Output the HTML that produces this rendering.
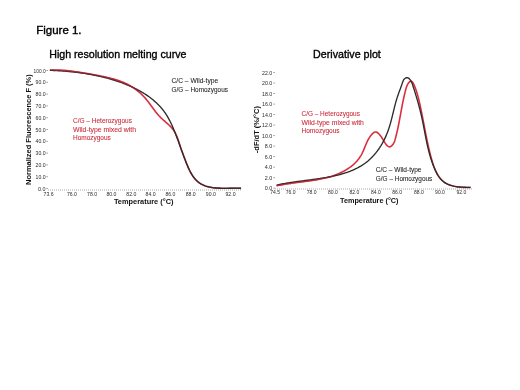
<!DOCTYPE html>
<html><head><meta charset="utf-8"><style>
html,body{margin:0;padding:0;background:#fff;width:520px;height:390px;overflow:hidden}
svg{display:block;filter:blur(0.3px)}
text{font-family:"Liberation Sans",sans-serif}
.tk{font-size:6px;fill:#2a2a2a}
.tm{stroke:#666;stroke-width:0.6}
.ax{stroke:#c0c0c0;stroke-width:1.4;stroke-dasharray:0.9 1.1}
</style></head><body>
<svg width="520" height="390" viewBox="0 0 520 390">
<text x="36.25" y="34.1" font-size="11.4" fill="#000" stroke="#000" stroke-width="0.4" textLength="45.3" lengthAdjust="spacingAndGlyphs">Figure 1.</text>
<text x="49.2" y="57.7" font-size="10.8" fill="#000" stroke="#000" stroke-width="0.35" textLength="137.3" lengthAdjust="spacingAndGlyphs">High resolution melting curve</text>
<text x="313.1" y="57.7" font-size="10.6" fill="#000" stroke="#000" stroke-width="0.35" textLength="67.7" lengthAdjust="spacingAndGlyphs">Derivative plot</text>

<!-- left chart -->
<line x1="48" x2="242" y1="190" y2="190" class="ax"/>
<text x="45.6" y="72.6" class="tk" text-anchor="end" textLength="12.0" lengthAdjust="spacingAndGlyphs">100.0</text><line x1="46.3" x2="48" y1="70.5" y2="70.5" class="tm"/><text x="45.6" y="84.4" class="tk" text-anchor="end" textLength="10.0" lengthAdjust="spacingAndGlyphs">90.0</text><line x1="46.3" x2="48" y1="82.3" y2="82.3" class="tm"/><text x="45.6" y="96.2" class="tk" text-anchor="end" textLength="10.0" lengthAdjust="spacingAndGlyphs">80.0</text><line x1="46.3" x2="48" y1="94.1" y2="94.1" class="tm"/><text x="45.6" y="108.0" class="tk" text-anchor="end" textLength="10.0" lengthAdjust="spacingAndGlyphs">70.0</text><line x1="46.3" x2="48" y1="105.9" y2="105.9" class="tm"/><text x="45.6" y="119.8" class="tk" text-anchor="end" textLength="10.0" lengthAdjust="spacingAndGlyphs">60.0</text><line x1="46.3" x2="48" y1="117.7" y2="117.7" class="tm"/><text x="45.6" y="131.6" class="tk" text-anchor="end" textLength="10.0" lengthAdjust="spacingAndGlyphs">50.0</text><line x1="46.3" x2="48" y1="129.5" y2="129.5" class="tm"/><text x="45.6" y="143.4" class="tk" text-anchor="end" textLength="10.0" lengthAdjust="spacingAndGlyphs">40.0</text><line x1="46.3" x2="48" y1="141.3" y2="141.3" class="tm"/><text x="45.6" y="155.2" class="tk" text-anchor="end" textLength="10.0" lengthAdjust="spacingAndGlyphs">30.0</text><line x1="46.3" x2="48" y1="153.1" y2="153.1" class="tm"/><text x="45.6" y="167.0" class="tk" text-anchor="end" textLength="10.0" lengthAdjust="spacingAndGlyphs">20.0</text><line x1="46.3" x2="48" y1="164.9" y2="164.9" class="tm"/><text x="45.6" y="178.8" class="tk" text-anchor="end" textLength="10.0" lengthAdjust="spacingAndGlyphs">10.0</text><line x1="46.3" x2="48" y1="176.7" y2="176.7" class="tm"/><text x="45.6" y="190.6" class="tk" text-anchor="end" textLength="7.5" lengthAdjust="spacingAndGlyphs">0.0</text><line x1="46.3" x2="48" y1="188.5" y2="188.5" class="tm"/>
<text x="48.6" y="195.9" class="tk" text-anchor="middle" textLength="10.0" lengthAdjust="spacingAndGlyphs">73.6</text><text x="71.9" y="195.9" class="tk" text-anchor="middle" textLength="10.0" lengthAdjust="spacingAndGlyphs">76.0</text><text x="92.1" y="195.9" class="tk" text-anchor="middle" textLength="10.0" lengthAdjust="spacingAndGlyphs">78.0</text><text x="111.4" y="195.9" class="tk" text-anchor="middle" textLength="10.0" lengthAdjust="spacingAndGlyphs">80.0</text><text x="131.3" y="195.9" class="tk" text-anchor="middle" textLength="10.0" lengthAdjust="spacingAndGlyphs">82.0</text><text x="150.6" y="195.9" class="tk" text-anchor="middle" textLength="10.0" lengthAdjust="spacingAndGlyphs">84.0</text><text x="170.4" y="195.9" class="tk" text-anchor="middle" textLength="10.0" lengthAdjust="spacingAndGlyphs">86.0</text><text x="190.7" y="195.9" class="tk" text-anchor="middle" textLength="10.0" lengthAdjust="spacingAndGlyphs">88.0</text><text x="210.8" y="195.9" class="tk" text-anchor="middle" textLength="10.0" lengthAdjust="spacingAndGlyphs">90.0</text><text x="230.5" y="195.9" class="tk" text-anchor="middle" textLength="10.0" lengthAdjust="spacingAndGlyphs">92.0</text>
<text transform="translate(30.6,184.9) rotate(-90)" font-size="7.8" font-weight="bold" fill="#111" textLength="110.6" lengthAdjust="spacingAndGlyphs">Normalized Fluorescence F (%)</text>
<text x="113.9" y="203.9" font-size="7.3" font-weight="bold" fill="#111" textLength="59.6" lengthAdjust="spacingAndGlyphs">Temperature (°C)</text>
<path d="M49.84,70.03L50.69,70.00L51.54,69.98L52.39,69.96L53.23,69.95L54.07,69.95L54.91,69.95L55.75,69.96L56.59,69.97L57.42,70.00L58.26,70.02L59.09,70.05L59.92,70.09L60.75,70.13L61.57,70.18L62.40,70.23L63.22,70.29L64.04,70.36L64.86,70.42L65.68,70.49L66.50,70.57L67.32,70.65L68.14,70.74L68.95,70.83L69.77,70.92L70.58,71.01L71.39,71.11L72.20,71.22L73.02,71.33L73.83,71.44L74.64,71.55L75.45,71.67L76.26,71.79L77.07,71.91L77.88,72.03L78.69,72.16L79.50,72.29L80.30,72.42L81.11,72.56L81.92,72.69L82.73,72.83L83.54,72.97L84.35,73.11L85.16,73.25L85.97,73.40L86.78,73.54L87.60,73.69L88.41,73.84L89.22,73.98L90.04,74.13L90.85,74.28L91.67,74.43L92.48,74.58L93.30,74.73L94.12,74.88L94.94,75.04L95.76,75.19L96.58,75.34L97.40,75.49L98.22,75.65L99.05,75.80L99.87,75.96L100.69,76.12L101.51,76.28L102.34,76.44L103.16,76.61L103.98,76.77L104.80,76.95L105.62,77.12L106.44,77.30L107.25,77.48L108.07,77.67L108.88,77.86L109.69,78.05L110.50,78.25L111.31,78.46L112.12,78.67L112.92,78.88L113.72,79.11L114.52,79.33L115.32,79.57L116.11,79.81L116.90,80.05L117.69,80.31L118.47,80.57L119.25,80.83L120.03,81.11L120.80,81.39L121.57,81.69L122.34,81.99L123.10,82.29L123.85,82.61L124.61,82.94L125.35,83.27L126.09,83.62L126.83,83.98L127.56,84.34L128.29,84.72L129.01,85.10L129.73,85.50L130.44,85.91L131.14,86.33L131.84,86.76L132.53,87.19L133.22,87.64L133.90,88.10L134.57,88.57L135.24,89.05L135.90,89.54L136.56,90.04L137.20,90.54L137.85,91.06L138.48,91.58L139.11,92.12L139.73,92.66L140.34,93.21L140.95,93.77L141.55,94.34L142.14,94.91L142.72,95.49L143.30,96.08L143.87,96.68L144.43,97.29L144.98,97.90L145.53,98.52L146.06,99.14L146.59,99.78L147.12,100.41L147.63,101.06L148.14,101.71L148.64,102.36L149.14,103.02L149.64,103.68L150.13,104.34L150.62,105.01L151.10,105.67L151.59,106.34L152.07,107.01L152.56,107.68L153.05,108.34L153.54,109.01L154.03,109.67L154.52,110.33L155.02,110.99L155.52,111.64L156.03,112.29L156.54,112.93L157.07,113.57L157.59,114.20L158.13,114.82L158.68,115.44L159.23,116.05L159.80,116.65L160.38,117.24L160.96,117.82L161.56,118.39L162.17,118.96L162.78,119.52L163.40,120.07L164.02,120.62L164.65,121.17L165.27,121.72L165.90,122.26L166.52,122.81L167.14,123.36L167.76,123.92L168.37,124.47L168.97,125.04L169.56,125.61L170.14,126.18L170.71,126.77L171.26,127.37L171.80,127.98L172.32,128.60L172.82,129.23L173.31,129.88L173.77,130.55L174.21,131.23L174.63,131.93L175.04,132.63L175.42,133.36L175.79,134.09L176.15,134.83L176.49,135.59L176.82,136.35L177.13,137.12L177.44,137.90L177.73,138.68L178.02,139.47L178.30,140.26L178.57,141.06L178.83,141.85L179.10,142.65L179.35,143.45L179.61,144.25L179.87,145.04L180.12,145.84L180.38,146.62L180.64,147.41L180.90,148.19L181.17,148.96L181.43,149.73L181.70,150.50L181.98,151.26L182.26,152.02L182.53,152.78L182.82,153.55L183.10,154.31L183.39,155.07L183.67,155.84L183.96,156.60L184.26,157.38L184.55,158.15L184.84,158.94L185.14,159.72L185.44,160.51L185.74,161.31L186.05,162.10L186.36,162.90L186.67,163.70L186.99,164.50L187.31,165.29L187.64,166.09L187.98,166.88L188.32,167.67L188.67,168.45L189.03,169.23L189.39,170.00L189.76,170.76L190.15,171.52L190.54,172.27L190.94,173.00L191.35,173.73L191.77,174.44L192.21,175.15L192.65,175.84L193.11,176.51L193.58,177.17L194.06,177.82L194.56,178.44L195.07,179.05L195.60,179.65L196.14,180.22L196.69,180.77L197.26,181.30L197.85,181.81L198.46,182.30L199.08,182.76L199.72,183.20L200.38,183.62L201.05,184.01L201.74,184.38L202.45,184.73L203.16,185.05L203.90,185.36L204.64,185.65L205.40,185.92L206.17,186.17L206.95,186.40L207.75,186.61L208.55,186.81L209.36,186.99L210.18,187.16L211.01,187.31L211.85,187.45L212.69,187.58L213.54,187.69L214.40,187.79L215.26,187.88L216.13,187.95L217.00,188.02L217.87,188.08L218.74,188.13L219.62,188.17L220.50,188.20L221.38,188.23L222.26,188.25L223.14,188.26L224.01,188.27L224.89,188.27L225.76,188.27L226.63,188.27L227.50,188.26L228.36,188.25L229.22,188.24L230.07,188.23L230.92,188.22L231.75,188.22L232.59,188.21L233.41,188.20L234.22,188.20L235.03,188.20L235.82,188.20L236.61,188.21L237.38,188.22L238.14,188.24L238.89,188.26L239.62,188.29L240.35,188.33L241.05,188.38" fill="none" stroke="#da2e3e" stroke-width="1.6"/>
<path d="M49.85,70.31L50.69,70.34L51.52,70.38L52.36,70.42L53.20,70.46L54.04,70.50L54.87,70.55L55.71,70.59L56.55,70.64L57.38,70.69L58.21,70.74L59.05,70.79L59.88,70.84L60.72,70.90L61.55,70.95L62.38,71.01L63.21,71.07L64.04,71.14L64.88,71.20L65.71,71.27L66.54,71.34L67.36,71.41L68.19,71.48L69.02,71.56L69.85,71.64L70.68,71.72L71.50,71.80L72.33,71.88L73.16,71.97L73.98,72.06L74.80,72.15L75.63,72.24L76.45,72.34L77.27,72.44L78.10,72.54L78.92,72.65L79.74,72.75L80.56,72.86L81.38,72.97L82.20,73.09L83.02,73.20L83.84,73.32L84.65,73.45L85.47,73.57L86.29,73.70L87.10,73.83L87.92,73.97L88.73,74.10L89.55,74.25L90.36,74.39L91.17,74.53L91.98,74.68L92.80,74.84L93.61,74.99L94.42,75.15L95.23,75.31L96.03,75.48L96.84,75.65L97.65,75.82L98.46,76.00L99.26,76.17L100.07,76.36L100.87,76.54L101.68,76.73L102.48,76.92L103.28,77.12L104.09,77.32L104.89,77.52L105.69,77.73L106.49,77.94L107.29,78.15L108.09,78.37L108.88,78.59L109.68,78.82L110.48,79.05L111.27,79.28L112.07,79.52L112.86,79.76L113.65,80.01L114.45,80.26L115.24,80.51L116.03,80.77L116.82,81.03L117.61,81.30L118.40,81.57L119.19,81.84L119.97,82.12L120.76,82.40L121.55,82.69L122.33,82.98L123.12,83.28L123.90,83.58L124.68,83.88L125.46,84.19L126.24,84.50L127.02,84.82L127.79,85.15L128.57,85.47L129.34,85.81L130.11,86.14L130.88,86.49L131.65,86.83L132.41,87.19L133.17,87.54L133.93,87.91L134.68,88.27L135.44,88.65L136.19,89.03L136.93,89.41L137.68,89.80L138.42,90.19L139.15,90.59L139.89,91.00L140.61,91.41L141.34,91.82L142.06,92.25L142.78,92.67L143.49,93.11L144.20,93.55L144.90,93.99L145.60,94.44L146.29,94.90L146.98,95.36L147.66,95.83L148.34,96.31L149.01,96.79L149.68,97.27L150.34,97.77L151.00,98.27L151.65,98.77L152.29,99.29L152.93,99.81L153.56,100.33L154.19,100.86L154.81,101.40L155.42,101.95L156.02,102.50L156.62,103.06L157.21,103.62L157.80,104.20L158.38,104.78L158.95,105.36L159.51,105.96L160.06,106.56L160.61,107.16L161.15,107.78L161.68,108.40L162.20,109.03L162.71,109.67L163.22,110.31L163.72,110.96L164.21,111.62L164.68,112.29L165.16,112.96L165.62,113.64L166.07,114.33L166.51,115.03L166.95,115.73L167.38,116.44L167.80,117.15L168.21,117.87L168.62,118.59L169.02,119.33L169.41,120.06L169.79,120.80L170.17,121.55L170.55,122.30L170.91,123.05L171.27,123.81L171.63,124.57L171.98,125.33L172.32,126.10L172.66,126.86L172.99,127.63L173.32,128.41L173.65,129.18L173.97,129.96L174.29,130.74L174.60,131.52L174.91,132.30L175.22,133.08L175.52,133.86L175.82,134.64L176.12,135.42L176.42,136.19L176.71,136.97L177.00,137.75L177.29,138.53L177.58,139.31L177.86,140.09L178.15,140.86L178.43,141.64L178.72,142.42L179.00,143.20L179.28,143.97L179.56,144.75L179.84,145.53L180.12,146.30L180.40,147.08L180.68,147.86L180.96,148.64L181.24,149.41L181.52,150.19L181.80,150.97L182.08,151.75L182.37,152.53L182.65,153.31L182.94,154.09L183.22,154.87L183.51,155.65L183.81,156.43L184.10,157.21L184.40,157.99L184.69,158.78L184.99,159.56L185.30,160.35L185.61,161.13L185.92,161.92L186.23,162.71L186.55,163.49L186.87,164.28L187.19,165.07L187.52,165.85L187.86,166.64L188.20,167.41L188.55,168.19L188.91,168.96L189.27,169.72L189.64,170.48L190.03,171.23L190.42,171.97L190.82,172.70L191.23,173.42L191.66,174.14L192.09,174.83L192.54,175.52L193.00,176.19L193.47,176.85L193.96,177.49L194.46,178.12L194.98,178.73L195.52,179.32L196.06,179.90L196.63,180.45L197.21,180.99L197.80,181.51L198.41,182.01L199.04,182.49L199.68,182.95L200.33,183.38L201.00,183.80L201.68,184.20L202.38,184.58L203.09,184.93L203.81,185.26L204.55,185.58L205.30,185.87L206.06,186.14L206.84,186.39L207.62,186.62L208.42,186.83L209.23,187.03L210.04,187.21L210.87,187.37L211.70,187.52L212.54,187.65L213.38,187.77L214.23,187.87L215.09,187.96L215.95,188.04L216.82,188.11L217.69,188.17L218.57,188.22L219.44,188.26L220.32,188.29L221.20,188.31L222.08,188.33L222.96,188.34L223.84,188.34L224.72,188.34L225.59,188.34L226.47,188.33L227.34,188.31L228.21,188.30L229.07,188.28L229.93,188.27L230.78,188.25L231.63,188.23L232.47,188.22L233.30,188.20L234.13,188.19L234.94,188.19L235.75,188.18L236.55,188.18L237.34,188.19L238.11,188.20L238.88,188.22L239.63,188.25L240.37,188.28L241.10,188.33" fill="none" stroke="#2c2c2c" stroke-width="1.35"/>
<path d="M49.98,69.74L50.88,69.80L51.78,69.85L52.68,69.91L53.59,69.96L54.49,70.02L55.40,70.08L56.30,70.14L57.21,70.20L58.12,70.26L59.03,70.33L59.94,70.39L60.85,70.46L61.76,70.53L62.67,70.60L63.59,70.67L64.50,70.74L65.41,70.82L66.33,70.89L67.24,70.97L68.16,71.05L69.07,71.14L69.99,71.22L70.90,71.31L71.82,71.40L72.73,71.49L73.65,71.59L74.57,71.69L75.48,71.79L76.40,71.89L77.31,72.00L78.23,72.10L79.14,72.22L80.06,72.33L80.97,72.45L81.89,72.57L82.80,72.69L83.71,72.82L84.63,72.95L85.54,73.08L86.45,73.22L87.36,73.36L88.27,73.51L89.18,73.65L90.09,73.81L91.00,73.96L91.91,74.12L92.82,74.28L93.72,74.45L94.63,74.62L95.53,74.80L96.43,74.98L97.33,75.16L98.23,75.35L99.13,75.54L100.03,75.74L100.93,75.94L101.82,76.15L102.72,76.36L103.61,76.58L104.50,76.80L105.39,77.02L106.28,77.25L107.16,77.49L108.05,77.73L108.93,77.98L109.81,78.23L110.69,78.48L111.57,78.75L112.44,79.01L113.32,79.29L114.19,79.56L115.06,79.85L115.93,80.14L116.79,80.43L117.66,80.73L118.52,81.04L119.38,81.35L120.23,81.67L121.09,82.00L121.94,82.33L122.79,82.67L123.64,83.01L124.48,83.36L125.32,83.72L126.16,84.08L127.00,84.45L127.83,84.83L128.66,85.22L129.49,85.61L130.32,86.00L131.14,86.41L131.96,86.82L132.78,87.24L133.59,87.66L134.40,88.10L135.21,88.54L136.01,88.98L136.82,89.44L137.61,89.90" fill="none" stroke="#da2e3e" stroke-width="1.5" opacity="0.4"/>
<g font-size="6.4" fill="#1e1e1e" stroke="#1e1e1e" stroke-width="0.07">
<text x="171.5" y="83.1" textLength="46.7" lengthAdjust="spacingAndGlyphs">C/C – Wild-type</text>
<text x="171.5" y="91.5" textLength="56.5" lengthAdjust="spacingAndGlyphs">G/G – Homozygous</text>
</g>
<g font-size="6.4" fill="#c92a38" stroke="#c92a38" stroke-width="0.07">
<text x="73" y="123.1" textLength="58.9" lengthAdjust="spacingAndGlyphs">C/G – Heterozygous</text>
<text x="73" y="131.8" textLength="63.1" lengthAdjust="spacingAndGlyphs">Wild-type mixed with</text>
<text x="73" y="140.3" textLength="37.8" lengthAdjust="spacingAndGlyphs">Homozygous</text>
</g>

<!-- right chart -->
<line x1="275" x2="472" y1="189" y2="189" class="ax"/>
<text x="272.3" y="74.6" class="tk" text-anchor="end" textLength="10.2" lengthAdjust="spacingAndGlyphs">22.0</text><line x1="273.3" x2="275" y1="72.5" y2="72.5" class="tm"/><text x="272.3" y="85.1" class="tk" text-anchor="end" textLength="10.2" lengthAdjust="spacingAndGlyphs">20.0</text><line x1="273.3" x2="275" y1="83.0" y2="83.0" class="tm"/><text x="272.3" y="95.6" class="tk" text-anchor="end" textLength="10.2" lengthAdjust="spacingAndGlyphs">18.0</text><line x1="273.3" x2="275" y1="93.5" y2="93.5" class="tm"/><text x="272.3" y="106.2" class="tk" text-anchor="end" textLength="10.2" lengthAdjust="spacingAndGlyphs">16.0</text><line x1="273.3" x2="275" y1="104.1" y2="104.1" class="tm"/><text x="272.3" y="116.7" class="tk" text-anchor="end" textLength="10.2" lengthAdjust="spacingAndGlyphs">14.0</text><line x1="273.3" x2="275" y1="114.6" y2="114.6" class="tm"/><text x="272.3" y="127.2" class="tk" text-anchor="end" textLength="10.2" lengthAdjust="spacingAndGlyphs">12.0</text><line x1="273.3" x2="275" y1="125.1" y2="125.1" class="tm"/><text x="272.3" y="137.7" class="tk" text-anchor="end" textLength="10.2" lengthAdjust="spacingAndGlyphs">10.0</text><line x1="273.3" x2="275" y1="135.6" y2="135.6" class="tm"/><text x="272.3" y="148.2" class="tk" text-anchor="end" textLength="7.5" lengthAdjust="spacingAndGlyphs">8.0</text><line x1="273.3" x2="275" y1="146.1" y2="146.1" class="tm"/><text x="272.3" y="158.7" class="tk" text-anchor="end" textLength="7.5" lengthAdjust="spacingAndGlyphs">6.0</text><line x1="273.3" x2="275" y1="156.6" y2="156.6" class="tm"/><text x="272.3" y="169.3" class="tk" text-anchor="end" textLength="7.5" lengthAdjust="spacingAndGlyphs">4.0</text><line x1="273.3" x2="275" y1="167.2" y2="167.2" class="tm"/><text x="272.3" y="179.8" class="tk" text-anchor="end" textLength="7.5" lengthAdjust="spacingAndGlyphs">2.0</text><line x1="273.3" x2="275" y1="177.7" y2="177.7" class="tm"/><text x="272.3" y="190.3" class="tk" text-anchor="end" textLength="7.5" lengthAdjust="spacingAndGlyphs">0.0</text><line x1="273.3" x2="275" y1="188.2" y2="188.2" class="tm"/>
<text x="275.1" y="194.4" class="tk" text-anchor="middle" textLength="9.8" lengthAdjust="spacingAndGlyphs">74.5</text><text x="290.6" y="194.4" class="tk" text-anchor="middle" textLength="9.8" lengthAdjust="spacingAndGlyphs">76.0</text><text x="311.6" y="194.4" class="tk" text-anchor="middle" textLength="9.8" lengthAdjust="spacingAndGlyphs">78.0</text><text x="332.8" y="194.4" class="tk" text-anchor="middle" textLength="9.8" lengthAdjust="spacingAndGlyphs">80.0</text><text x="354.3" y="194.4" class="tk" text-anchor="middle" textLength="9.8" lengthAdjust="spacingAndGlyphs">82.0</text><text x="375.8" y="194.4" class="tk" text-anchor="middle" textLength="9.8" lengthAdjust="spacingAndGlyphs">84.0</text><text x="397.2" y="194.4" class="tk" text-anchor="middle" textLength="9.8" lengthAdjust="spacingAndGlyphs">86.0</text><text x="418.8" y="194.4" class="tk" text-anchor="middle" textLength="9.8" lengthAdjust="spacingAndGlyphs">88.0</text><text x="440.0" y="194.4" class="tk" text-anchor="middle" textLength="9.8" lengthAdjust="spacingAndGlyphs">90.0</text><text x="461.3" y="194.4" class="tk" text-anchor="middle" textLength="9.8" lengthAdjust="spacingAndGlyphs">92.0</text>
<text transform="translate(258.9,153.2) rotate(-90)" font-size="7.6" font-weight="bold" fill="#111" textLength="47.2" lengthAdjust="spacingAndGlyphs">-dF/dT (%/°C)</text>
<text x="340" y="203.0" font-size="7.3" font-weight="bold" fill="#111" textLength="58.5" lengthAdjust="spacingAndGlyphs">Temperature (°C)</text>
<path d="M276.61,185.86L277.76,185.59L278.91,185.34L280.05,185.10L281.20,184.87L282.36,184.65L283.51,184.44L284.66,184.24L285.82,184.05L286.98,183.86L288.14,183.68L289.30,183.51L290.46,183.34L291.62,183.17L292.78,183.02L293.94,182.86L295.10,182.71L296.27,182.56L297.43,182.42L298.59,182.27L299.75,182.13L300.92,181.99L302.08,181.84L303.24,181.70L304.40,181.56L305.56,181.41L306.72,181.26L307.88,181.11L309.04,180.95L310.20,180.79L311.35,180.63L312.51,180.46L313.66,180.28L314.81,180.10L315.96,179.91L317.11,179.71L318.26,179.51L319.40,179.29L320.54,179.07L321.68,178.83L322.82,178.59L323.96,178.33L325.09,178.06L326.22,177.78L327.34,177.49L328.47,177.18L329.59,176.86L330.71,176.53L331.82,176.17L332.93,175.81L334.04,175.42L335.14,175.02L336.24,174.61L337.33,174.17L338.42,173.72L339.50,173.24L340.57,172.75L341.64,172.24L342.69,171.72L343.73,171.17L344.76,170.60L345.78,170.02L346.78,169.41L347.77,168.78L348.74,168.14L349.70,167.47L350.64,166.78L351.55,166.07L352.45,165.34L353.33,164.59L354.19,163.82L355.02,163.02L355.83,162.20L356.62,161.36L357.37,160.50L358.11,159.61L358.81,158.70L359.49,157.77L360.14,156.81L360.75,155.83L361.34,154.82L361.89,153.79L362.41,152.74L362.92,151.67L363.40,150.59L363.87,149.49L364.33,148.39L364.78,147.28L365.23,146.17L365.69,145.06L366.15,143.96L366.63,142.86L367.13,141.78L367.64,140.70L368.19,139.65L368.76,138.62L369.37,137.61L370.02,136.63L370.71,135.68L371.46,134.77L372.25,133.89L373.11,133.08L374.00,132.44L374.93,132.05L375.89,132.01L376.86,132.34L377.82,132.95L378.75,133.77L379.61,134.69L380.39,135.64L381.08,136.58L381.72,137.52L382.32,138.47L382.91,139.45L383.51,140.46L384.15,141.54L384.84,142.66L385.59,143.78L386.37,144.82L387.20,145.71L388.05,146.39L388.92,146.79L389.80,146.84L390.68,146.55L391.52,145.97L392.32,145.17L393.05,144.22L393.68,143.17L394.20,142.08L394.64,140.96L395.01,139.83L395.34,138.68L395.65,137.53L395.96,136.38L396.25,135.23L396.53,134.08L396.81,132.93L397.08,131.78L397.34,130.63L397.60,129.49L397.85,128.34L398.09,127.20L398.32,126.05L398.56,124.91L398.78,123.76L399.01,122.62L399.23,121.47L399.44,120.33L399.66,119.19L399.87,118.04L400.08,116.90L400.29,115.76L400.50,114.61L400.70,113.47L400.91,112.32L401.12,111.18L401.33,110.04L401.54,108.89L401.75,107.75L401.97,106.60L402.19,105.46L402.41,104.31L402.63,103.16L402.86,102.02L403.10,100.87L403.34,99.72L403.58,98.57L403.83,97.42L404.09,96.27L404.35,95.12L404.63,93.97L404.91,92.82L405.20,91.66L405.49,90.51L405.80,89.35L406.12,88.20L406.48,87.05L406.89,85.91L407.39,84.80L408.00,83.72L408.70,82.72L409.46,81.91L410.24,81.37L410.99,81.21L411.68,81.43L412.34,81.99L412.95,82.80L413.52,83.80L414.05,84.93L414.56,86.12L415.03,87.31L415.48,88.50L415.91,89.67L416.31,90.84L416.69,92.00L417.05,93.16L417.39,94.31L417.71,95.45L418.02,96.59L418.32,97.73L418.61,98.87L418.88,100.00L419.15,101.13L419.41,102.26L419.67,103.40L419.92,104.53L420.17,105.66L420.42,106.80L420.66,107.93L420.90,109.07L421.13,110.20L421.37,111.34L421.60,112.48L421.82,113.61L422.05,114.75L422.27,115.89L422.50,117.03L422.72,118.17L422.94,119.31L423.16,120.45L423.38,121.59L423.59,122.73L423.81,123.88L424.03,125.02L424.25,126.16L424.47,127.31L424.68,128.45L424.90,129.59L425.12,130.74L425.35,131.88L425.57,133.03L425.80,134.17L426.02,135.32L426.25,136.47L426.49,137.61L426.72,138.76L426.96,139.91L427.20,141.05L427.44,142.20L427.69,143.35L427.94,144.50L428.20,145.64L428.46,146.79L428.72,147.94L428.99,149.09L429.27,150.24L429.54,151.39L429.83,152.54L430.12,153.69L430.41,154.84L430.72,155.99L431.02,157.14L431.34,158.29L431.66,159.44L431.99,160.59L432.33,161.74L432.67,162.88L433.03,164.02L433.40,165.16L433.78,166.28L434.19,167.40L434.61,168.50L435.05,169.59L435.51,170.66L435.99,171.71L436.50,172.74L437.04,173.75L437.61,174.74L438.20,175.69L438.83,176.62L439.50,177.52L440.20,178.38L440.93,179.21L441.71,180.01L442.52,180.76L443.38,181.48L444.29,182.15L445.24,182.78L446.24,183.36L447.28,183.89L448.36,184.38L449.48,184.83L450.63,185.24L451.80,185.60L453.00,185.93L454.22,186.23L455.44,186.48L456.68,186.71L457.92,186.90L459.16,187.06L460.40,187.20L461.62,187.31L462.84,187.39L464.03,187.45L465.20,187.48L466.34,187.50L467.45,187.49L468.53,187.47L469.56,187.43L470.55,187.38" fill="none" stroke="#da2e3e" stroke-width="1.6"/>
<path d="M276.58,185.08L277.68,184.84L278.78,184.61L279.87,184.39L280.97,184.17L282.06,183.95L283.16,183.75L284.25,183.55L285.34,183.36L286.44,183.17L287.53,182.98L288.62,182.81L289.72,182.63L290.81,182.46L291.90,182.30L292.99,182.14L294.09,181.98L295.18,181.82L296.27,181.67L297.36,181.52L298.45,181.37L299.54,181.23L300.63,181.09L301.72,180.94L302.82,180.80L303.91,180.66L305.00,180.52L306.09,180.38L307.18,180.24L308.27,180.10L309.36,179.96L310.45,179.82L311.53,179.68L312.62,179.53L313.71,179.38L314.80,179.24L315.89,179.08L316.98,178.93L318.07,178.77L319.16,178.61L320.25,178.45L321.34,178.28L322.43,178.11L323.52,177.93L324.61,177.75L325.70,177.56L326.78,177.37L327.87,177.17L328.96,176.97L330.05,176.76L331.14,176.54L332.23,176.32L333.32,176.09L334.41,175.85L335.50,175.60L336.58,175.35L337.67,175.09L338.75,174.81L339.83,174.53L340.91,174.24L341.98,173.94L343.05,173.63L344.11,173.30L345.17,172.97L346.23,172.63L347.28,172.27L348.32,171.90L349.36,171.52L350.39,171.12L351.42,170.72L352.44,170.30L353.45,169.86L354.45,169.41L355.44,168.95L356.43,168.47L357.40,167.98L358.37,167.47L359.33,166.94L360.27,166.40L361.21,165.84L362.13,165.26L363.04,164.67L363.95,164.06L364.83,163.43L365.71,162.78L366.57,162.12L367.42,161.43L368.26,160.73L369.08,160.01L369.89,159.27L370.69,158.52L371.47,157.75L372.24,156.96L373.00,156.16L373.74,155.35L374.47,154.52L375.19,153.67L375.89,152.82L376.58,151.95L377.26,151.06L377.92,150.17L378.57,149.26L379.20,148.34L379.82,147.42L380.42,146.48L381.02,145.53L381.59,144.57L382.16,143.61L382.71,142.63L383.24,141.65L383.76,140.66L384.27,139.66L384.76,138.66L385.24,137.65L385.70,136.63L386.15,135.61L386.58,134.59L387.00,133.56L387.41,132.53L387.80,131.49L388.17,130.45L388.54,129.41L388.89,128.36L389.23,127.32L389.56,126.27L389.88,125.21L390.19,124.16L390.49,123.10L390.78,122.05L391.07,120.99L391.35,119.92L391.62,118.86L391.89,117.80L392.16,116.73L392.42,115.67L392.68,114.60L392.94,113.53L393.20,112.47L393.46,111.40L393.72,110.33L393.98,109.27L394.24,108.20L394.51,107.13L394.78,106.07L395.05,105.00L395.33,103.94L395.62,102.88L395.91,101.82L396.21,100.76L396.52,99.70L396.84,98.64L397.17,97.59L397.51,96.54L397.86,95.49L398.23,94.44L398.60,93.40L398.98,92.35L399.37,91.31L399.76,90.26L400.16,89.21L400.55,88.16L400.94,87.10L401.32,86.04L401.70,84.97L402.07,83.90L402.43,82.82L402.79,81.74L403.20,80.70L403.71,79.74L404.37,78.89L405.22,78.21L406.17,77.77L407.14,77.64L408.06,77.87L408.91,78.40L409.70,79.17L410.41,80.12L411.04,81.16L411.58,82.24L412.04,83.31L412.43,84.36L412.78,85.40L413.12,86.43L413.46,87.47L413.79,88.51L414.13,89.55L414.46,90.60L414.79,91.64L415.11,92.69L415.44,93.74L415.76,94.79L416.08,95.84L416.40,96.90L416.71,97.95L417.02,99.01L417.33,100.07L417.63,101.13L417.93,102.19L418.23,103.26L418.52,104.32L418.81,105.39L419.10,106.46L419.38,107.53L419.66,108.60L419.94,109.67L420.21,110.74L420.47,111.82L420.73,112.89L420.99,113.97L421.24,115.05L421.49,116.13L421.73,117.21L421.97,118.29L422.20,119.37L422.43,120.46L422.65,121.54L422.87,122.62L423.09,123.71L423.31,124.79L423.52,125.88L423.73,126.97L423.94,128.05L424.15,129.14L424.35,130.23L424.56,131.31L424.77,132.40L424.97,133.49L425.18,134.57L425.39,135.66L425.60,136.74L425.81,137.83L426.03,138.91L426.25,139.99L426.47,141.08L426.69,142.16L426.92,143.24L427.15,144.31L427.39,145.39L427.63,146.47L427.88,147.54L428.13,148.62L428.39,149.69L428.66,150.76L428.93,151.82L429.21,152.89L429.50,153.95L429.80,155.01L430.10,156.07L430.42,157.13L430.74,158.18L431.08,159.24L431.42,160.29L431.78,161.33L432.14,162.38L432.52,163.42L432.91,164.46L433.31,165.49L433.72,166.52L434.15,167.55L434.59,168.58L435.04,169.60L435.51,170.61L436.00,171.62L436.50,172.61L437.03,173.59L437.58,174.56L438.15,175.50L438.75,176.42L439.37,177.31L440.02,178.17L440.71,179.00L441.42,179.80L442.18,180.56L442.96,181.28L443.79,181.95L444.65,182.58L445.55,183.16L446.50,183.69L447.48,184.18L448.50,184.61L449.55,185.00L450.63,185.35L451.73,185.66L452.85,185.94L453.99,186.18L455.14,186.39L456.30,186.57L457.46,186.73L458.63,186.86L459.80,186.96L460.96,187.05L462.11,187.13L463.25,187.19L464.37,187.23L465.47,187.27L466.55,187.30L467.60,187.33L468.63,187.35L469.61,187.38L470.56,187.41" fill="none" stroke="#2c2c2c" stroke-width="1.35"/>
<path d="M276.61,185.73L277.19,185.62L277.77,185.52L278.36,185.42L278.94,185.32L279.53,185.22L280.11,185.12L280.70,185.03L281.28,184.93L281.87,184.83L282.45,184.74L283.04,184.64L283.62,184.55L284.21,184.46L284.80,184.36L285.38,184.27L285.97,184.18L286.55,184.09L287.14,184.00L287.73,183.91L288.31,183.82L288.90,183.73L289.49,183.64L290.07,183.55L290.66,183.47L291.25,183.38L291.84,183.29L292.42,183.20L293.01,183.12L293.60,183.03L294.18,182.95L294.77,182.86L295.36,182.78L295.95,182.69L296.53,182.60L297.12,182.52L297.71,182.43L298.30,182.35L298.88,182.26L299.47,182.18L300.06,182.09L300.65,182.01L301.23,181.92L301.82,181.84L302.41,181.75L303.00,181.67L303.58,181.58L304.17,181.50L304.76,181.41L305.35,181.32L305.93,181.24L306.52,181.15L307.11,181.06L307.69,180.98L308.28,180.89L308.87,180.80L309.45,180.71L310.04,180.62L310.63,180.53L311.21,180.44L311.80,180.35L312.39,180.26L312.97,180.17L313.56,180.07L314.14,179.98L314.73,179.89L315.32,179.79L315.90,179.70L316.49,179.60L317.07,179.50L317.66,179.41L318.24,179.31L318.83,179.21L319.41,179.11L319.99,179.01L320.58,178.90L321.16,178.80L321.75,178.70L322.33,178.59L322.91,178.49L323.50,178.38L324.08,178.27L324.66,178.16L325.24,178.05L325.83,177.94L326.41,177.83L326.99,177.71L327.57,177.60L328.15,177.48L328.73,177.36L329.31,177.25L329.89,177.13L330.47,177.00L331.05,176.88L331.63,176.76L332.21,176.63L332.79,176.50L333.37,176.37L333.95,176.24L334.53,176.11" fill="none" stroke="#da2e3e" stroke-width="1.5" opacity="0.4"/>
<g font-size="6.4" fill="#c92a38" stroke="#c92a38" stroke-width="0.07">
<text x="301.5" y="115.8" textLength="58.4" lengthAdjust="spacingAndGlyphs">C/G – Heterozygous</text>
<text x="301.5" y="124.6" textLength="62.4" lengthAdjust="spacingAndGlyphs">Wild-type mixed with</text>
<text x="301.5" y="132.8" textLength="38.1" lengthAdjust="spacingAndGlyphs">Homozygous</text>
</g>
<g font-size="6.4" fill="#1e1e1e" stroke="#1e1e1e" stroke-width="0.07">
<text x="375.8" y="172" textLength="45.7" lengthAdjust="spacingAndGlyphs">C/C – Wild-type</text>
<text x="375.8" y="180.8" textLength="56.5" lengthAdjust="spacingAndGlyphs">G/G – Homozygous</text>
</g>
</svg>
</body></html>
